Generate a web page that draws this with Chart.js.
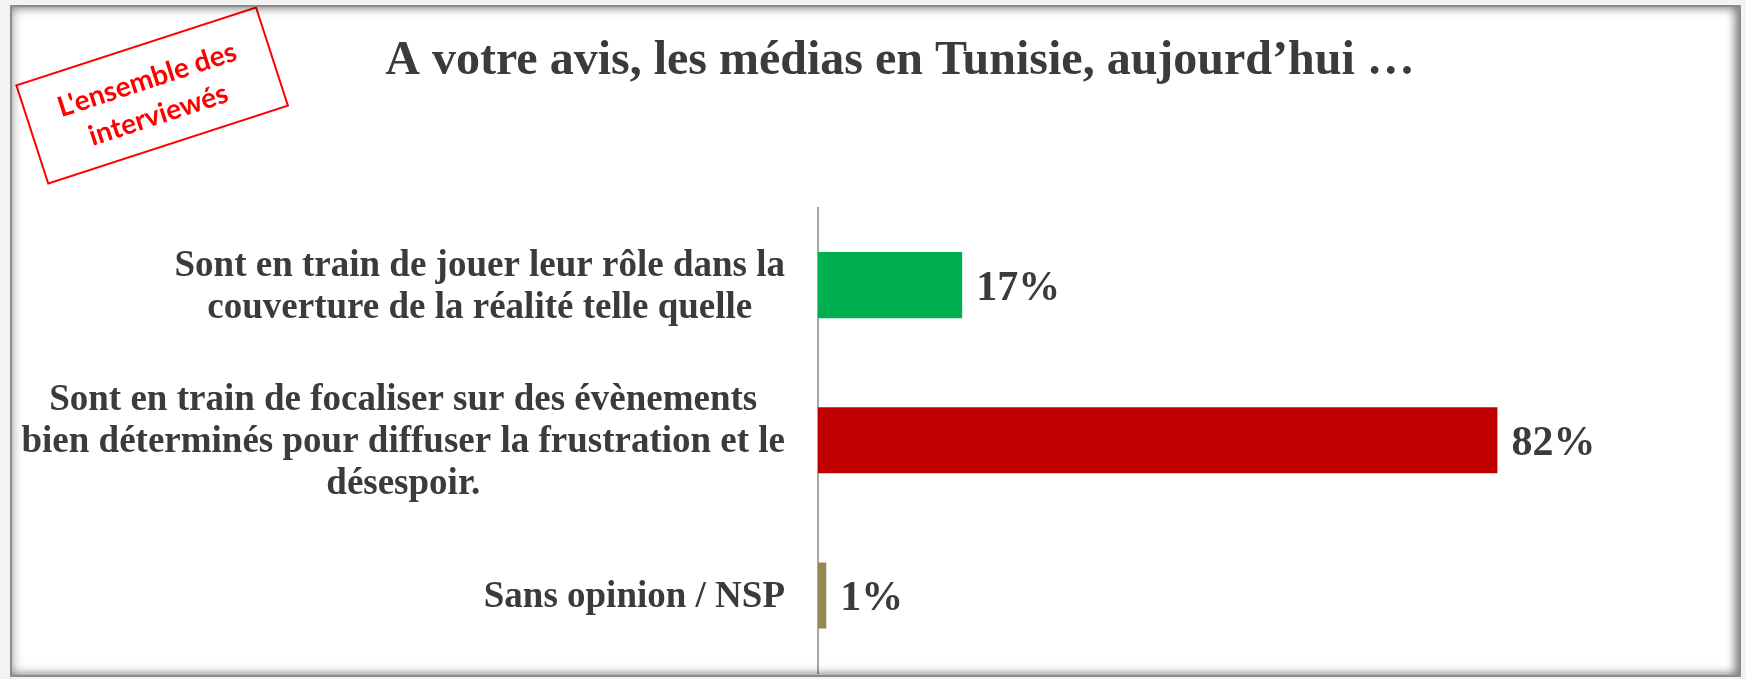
<!DOCTYPE html>
<html lang="fr">
<head>
<meta charset="UTF-8">
<title>Les médias en Tunisie</title>
<style>
  html, body { margin: 0; padding: 0; background: #f3f3f3; }
  #wrap { position: relative; width: 1746px; height: 679px; overflow: hidden; }
  #paper { position: absolute; left: 10px; top: 5px; width: 1731px; height: 672px; background: #fff; }
  #chart { position: absolute; left: 0; top: 0; }
  #frame {
    position: absolute; left: 10px; top: 5px; width: 1731px; height: 672px;
    box-sizing: border-box; border: 2px solid #8c8c8c; pointer-events: none;
    box-shadow: inset 0 0 12px rgba(0,0,0,0.4), inset -5px 0 8px rgba(0,0,0,0.3);
  }
</style>
</head>
<body>
<div id="wrap">
  <div id="paper"></div>
  <canvas id="chart" width="1746" height="679"></canvas>
  <div id="frame"></div>
</div>

<script src="https://cdn.jsdelivr.net/npm/chart.js"></script>
<script>
  // data
  var categories = [
    ["Sont en train de jouer leur rôle dans la", "couverture de la réalité telle quelle"],
    ["Sont en train de focaliser sur des évènements", "bien déterminés pour diffuser la frustration et le", "désespoir."],
    ["Sans opinion / NSP"]
  ];
  var values = [17.4, 82, 1];
  var barColors = ["#00B050", "#C00000", "#948A54"];

  var textColor = "#3b3b3b";
  var serif = "'Liberation Serif', 'Times New Roman', serif";

  // category labels: block right aligned to the axis, lines centred in the block
  var categoryLabels = {
    id: "categoryLabels",
    afterDraw: function (chart) {
      var ctx = chart.ctx;
      var yScale = chart.scales.y;
      var right = chart.chartArea.left - 33;
      var lh = 42;
      ctx.save();
      ctx.font = "bold 37px " + serif;
      ctx.fillStyle = textColor;
      ctx.textAlign = "center";
      ctx.textBaseline = "alphabetic";
      chart.data.labels.forEach(function (lines, i) {
        var y = yScale.getPixelForTick(i);
        var w = 0;
        lines.forEach(function (l) { w = Math.max(w, ctx.measureText(l).width); });
        var cx = right - w / 2;
        var y0 = y - (lines.length - 1) * lh / 2;
        lines.forEach(function (l, k) {
          ctx.fillText(l, cx, y0 + k * lh + 12);
        });
      });
      ctx.restore();
    }
  };

  // value labels at the end of each bar
  var valueLabels = {
    id: "valueLabels",
    afterDatasetsDraw: function (chart) {
      var ctx = chart.ctx;
      var meta = chart.getDatasetMeta(0);
      ctx.save();
      ctx.font = "bold 42px " + serif;
      ctx.fillStyle = textColor;
      ctx.textAlign = "left";
      ctx.textBaseline = "alphabetic";
      meta.data.forEach(function (bar, i) {
        var v = chart.data.datasets[0].data[i];
        ctx.fillText(Math.round(v) + "%", bar.x + 14, bar.y + 15);
      });
      ctx.restore();
    }
  };

  // red rotated stamp in the top left corner
  var stamp = {
    id: "stamp",
    afterDraw: function (chart) {
      var ctx = chart.ctx;
      ctx.save();
      ctx.translate(152, 95);
      ctx.rotate(-18 * Math.PI / 180);
      ctx.strokeStyle = "#ff0000";
      ctx.lineWidth = 2;
      ctx.strokeRect(-126, -51, 252, 103);
      ctx.fillStyle = "#ff0000";
      ctx.font = "bold 28px Lato, 'Open Sans', sans-serif";
      ctx.textAlign = "center";
      ctx.textBaseline = "middle";
      ctx.fillText("L'ensemble des", 0, -16);
      ctx.fillText("interviewés", 0, 21);
      ctx.restore();
    }
  };

  new Chart(document.getElementById("chart"), {
    type: "bar",
    data: {
      labels: categories,
      datasets: [{
        data: values,
        backgroundColor: barColors,
        borderWidth: 0,
        barPercentage: 0.426,
        categoryPercentage: 1
      }]
    },
    options: {
      indexAxis: "y",
      responsive: false,
      animation: false,
      layout: { padding: { left: 54, right: 0, top: 0, bottom: 6 } },
      plugins: {
        legend: { display: false },
        tooltip: { enabled: false },
        title: {
          display: true,
          text: "A votre avis, les médias en Tunisie, aujourd’hui …",
          color: textColor,
          font: { family: serif, size: 48, weight: "bold", lineHeight: 1.2 },
          padding: { top: 33, bottom: 117 }
        }
      },
      scales: {
        x: { display: false, min: 0, max: 112 },
        y: {
          grid: { display: false },
          border: { display: true, color: "#a6a6a6", width: 2 },
          ticks: { display: false },
          afterFit: function (scale) { scale.width = 764; }
        }
      }
    },
    plugins: [categoryLabels, valueLabels, stamp]
  });
</script>
</body>
</html>
